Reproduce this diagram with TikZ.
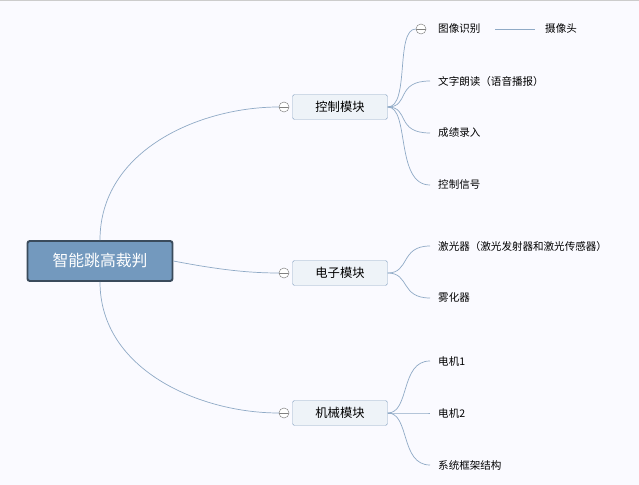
\documentclass[tikz,border=0pt]{standalone}
\usepackage{fontspec}
\setmainfont{Noto Sans CJK SC}
\usetikzlibrary{calc}
\definecolor{lnk}{HTML}{8FAAC6}
\definecolor{rootfill}{HTML}{7399BE}
\definecolor{rootdraw}{HTML}{3A4B5C}
\definecolor{brfill}{HTML}{EEF3F8}
\tikzset{
  root/.style={draw=rootdraw,line width=1.6pt,fill=rootfill,rounded corners=2pt,text=white,
    minimum width=4.35cm,minimum height=1.2cm,font=\fontsize{13.5}{15}\selectfont},
  branch/.style={draw=lnk,fill=brfill,rounded corners=1.5pt,minimum width=2.85cm,
    minimum height=0.75cm,font=\fontsize{10.5}{12}\selectfont},
  leaf/.style={anchor=west,inner sep=0pt,font=\fontsize{9}{11}\selectfont},
  link/.style={draw=lnk,line width=0.6pt},
  fold/.style={draw=gray,fill=white,circle,minimum size=0.3cm,inner sep=0pt,
    path picture={\draw[gray] ($(path picture bounding box.west)+(0.07,0)$)--($(path picture bounding box.east)+(-0.07,0)$);}}
}
\begin{document}
\begin{tikzpicture}[x=0.03cm,y=-0.03cm]
\useasboundingbox[fill=white!98!blue] (0,0) rectangle (639,485);
\draw[gray!40] (0,0.5)--(639,0.5);

% main topics
\node[root] (top) at (100,261) {智能跳高裁判};
\node[branch] (ctl) at (340,107) {控制模块};
\node[branch] (ele) at (340,273) {电子模块};
\node[branch] (mec) at (340,413) {机械模块};
\node[fold] (fc) at (284,107) {};
\node[fold] (fe) at (284,273) {};
\node[fold] (fm) at (284,413) {};

\path[link] (top.north) .. controls (100,150) and (200,107) .. (fc.west);
\path[link] (top.east) .. controls (220,270) and (250,273) .. (fe.west);
\path[link] (top.south) .. controls (100,370) and (200,413) .. (fm.west);

% leaves
\node[leaf] (img) at (438,29) {图像识别};
\node[leaf] (txt) at (438,81) {文字朗读（语音播报）};
\node[leaf] (scr) at (438,133) {成绩录入};
\node[leaf] (sig) at (438,185) {控制信号};
\node[leaf] (las) at (438,246) {激光器（激光发射器和激光传感器）};
\node[leaf] (fog) at (438,298) {雾化器};
\node[leaf] (mo1) at (438,361) {电机1};
\node[leaf] (mo2) at (438,413) {电机2};
\node[leaf] (frm) at (438,465) {系统框架结构};
\node[leaf] (cam) at (545,29) {摄像头};
\node[fold] (fi) at (421,29) {};
\coordinate (ct) at (430,81);
\coordinate (cs) at (430,133);
\coordinate (cg) at (430,185);

\foreach \t in {fi.west,ct,cs,cg}
  \path[link] (ctl.east) .. controls (410,107) and (395,0|-\t) .. (\t);
\foreach \t in {las,fog}
  \path[link] (ele.east) .. controls (410,273) and (400,0|-\t.west) .. ($(\t.west)+(-8,0)$);
\foreach \t in {mo1,mo2,frm}
  \path[link] (mec.east) .. controls (410,413) and (400,0|-\t.west) .. ($(\t.west)+(-8,0)$);
\path[link] (495,29) -- ($(cam.west)+(-10,0)$);
\end{tikzpicture}
\end{document}
